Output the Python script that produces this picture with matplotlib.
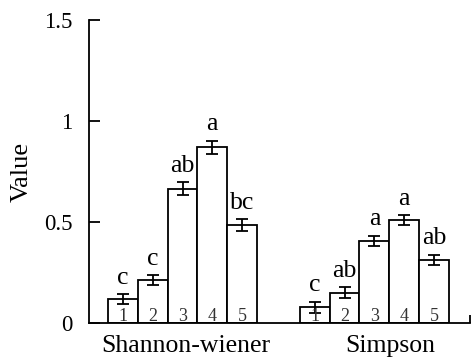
import numpy as np
import matplotlib
matplotlib.use("Agg")
import matplotlib.pyplot as plt

plt.rcParams['font.family'] = ['Liberation Serif', 'DejaVu Serif']

groups = ["Shannon-wiener", "Simpson"]
bar_ids = ["1", "2", "3", "4", "5"]
shannon_vals = [0.117, 0.213, 0.665, 0.870, 0.485]
shannon_err = [0.025, 0.025, 0.032, 0.033, 0.030]
shannon_sig = ["c", "c", "ab", "a", "bc"]
simpson_vals = [0.078, 0.150, 0.407, 0.510, 0.312]
simpson_err = [0.028, 0.027, 0.025, 0.025, 0.027]
simpson_sig = ["c", "ab", "a", "a", "ab"]
yticks = [0, 0.5, 1, 1.5]
ytick_labels = ["0", "0.5", "1", "1.5"]

fig = plt.figure(figsize=(4.71, 3.62), dpi=100)
ax = fig.add_axes([89/471, 1-323/362, 381/471, 303/362])

group_start = [0.64, 7.08]
label_x = [3.25, 10.12]
data = [(shannon_vals, shannon_err, shannon_sig), (simpson_vals, simpson_err, simpson_sig)]

for g, (vals, errs, sig) in enumerate(data):
    x = group_start[g] + 0.5 + np.arange(len(vals))
    ax.bar(x, vals, width=1.0, color="white", edgecolor="black", linewidth=1.3, zorder=2)
    ax.errorbar(x, vals, yerr=errs, fmt="none", ecolor="black", elinewidth=1.3,
                capsize=4, capthick=1.3, zorder=3)
    for xi, v, e, s, n in zip(x, vals, errs, sig, bar_ids):
        ax.annotate(s, (xi, v + e), xytext=(0, 7.5), textcoords="offset points",
                    ha="center", va="baseline", fontsize=18.5)
        ax.annotate(n, (xi, 0), xytext=(0, 1.5), textcoords="offset points",
                    ha="center", va="baseline", fontsize=13, color="#333333")
    ax.text(label_x[g], -0.115, groups[g], ha="center", va="center", fontsize=18.5,
            transform=ax.transData)

ax.set_xlim(0, 12.79)
ax.set_ylim(0, 1.5)
ax.set_yticks(yticks)
ax.set_yticklabels(ytick_labels, fontsize=16.5)
ax.set_xticks([12.79])
ax.set_xticklabels([""])
ax.tick_params(axis="y", direction="in", length=8, width=1.3, pad=12)
ax.tick_params(axis="x", direction="in", length=6, width=1.3)
ax.set_ylabel("Value", fontsize=19, labelpad=8)

for side in ["top", "right"]:
    ax.spines[side].set_visible(False)
for side in ["left", "bottom"]:
    ax.spines[side].set_linewidth(1.3)

fig.savefig("out.png", dpi=100)
